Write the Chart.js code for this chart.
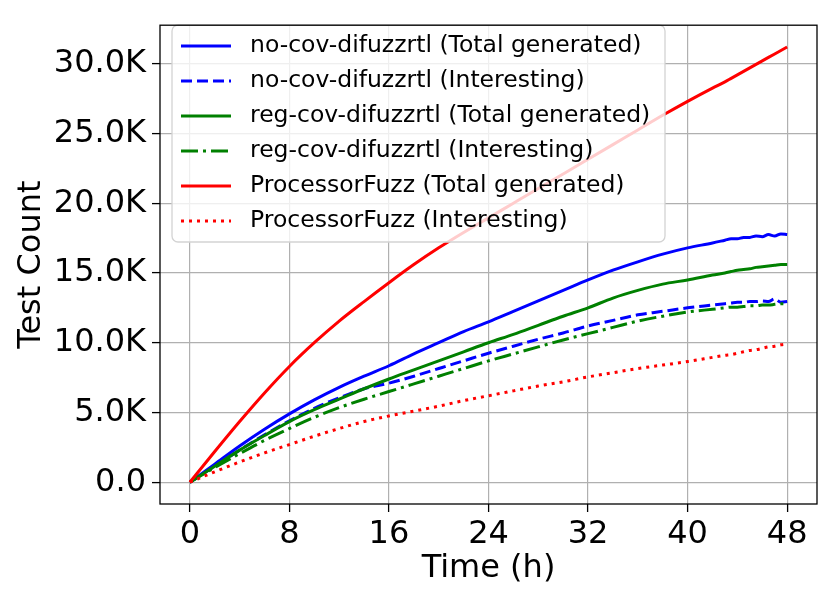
<!DOCTYPE html>
<html lang="en">
<head>
    <meta charset="UTF-8">
    <title>Test Count over Time</title>
    <style>
        body {
            margin: 0;
            background: #ffffff;
        }

        #chart {
            display: block;
        }
    </style>
</head>
<body>
    <canvas id="chart" width="830" height="600"></canvas>

    <script src="https://cdn.jsdelivr.net/npm/chart.js"></script>
    <script>
        // time axis (hours), shared by every series
        const hours = [0, 2, 4, 6, 8, 10, 12, 14, 16, 18, 20, 22, 24, 26, 28, 30, 32, 34, 36, 38, 40, 42,
            43, 43.5, 44, 44.5, 45, 45.5, 46, 46.5, 47, 47.5, 48];

        // test counts
        const noCovTotal = [0, 1300, 2600, 3800, 4900, 5900, 6800, 7600, 8350, 9200, 10000, 10800, 11500, 12250,
            13000, 13750, 14500, 15200, 15800, 16350, 16800, 17150,
            17350, 17450, 17450, 17550, 17550, 17650, 17600, 17750, 17650, 17800, 17750];
        const noCovInteresting = [0, 1150, 2300, 3400, 4400, 5300, 6050, 6700, 7100, 7600, 8150, 8700, 9250, 9750,
            10250, 10700, 11200, 11600, 12000, 12250, 12500, 12700,
            12800, 12850, 12900, 12900, 12950, 12950, 13000, 12950, 13150, 12900, 12950];
        const regCovTotal = [0, 1150, 2300, 3350, 4350, 5200, 5950, 6700, 7400, 8050, 8700, 9350, 10000, 10600,
            11250, 11900, 12500, 13200, 13750, 14200, 14500, 14850,
            15000, 15100, 15200, 15250, 15300, 15400, 15450, 15500, 15550, 15600, 15600];
        const regCovInteresting = [0, 1050, 2050, 3000, 3850, 4650, 5350, 5950, 6500, 7050, 7600, 8150, 8700, 9200,
            9700, 10200, 10650, 11100, 11550, 11900, 12200, 12400,
            12500, 12550, 12550, 12600, 12650, 12650, 12700, 12700, 12750, 12800, 12800];
        const pfTotal = [0, 2200, 4350, 6400, 8300, 10000, 11550, 12950, 14300, 15600, 16800, 17900, 18950, 20000,
            21050, 22100, 23150, 24200, 25250, 26300, 27300, 28250,
            28700, 28950, 29200, 29450, 29700, 29950, 30200, 30450, 30700, 30950, 31200];
        const pfInteresting = [0, 750, 1450, 2100, 2700, 3300, 3850, 4350, 4750, 5100, 5450, 5850, 6200, 6550,
            6900, 7200, 7550, 7850, 8150, 8400, 8650, 8950,
            9100, 9150, 9250, 9350, 9450, 9500, 9600, 9700, 9750, 9850, 9900];

        const seriesNames = [
            'no-cov-difuzzrtl (Total generated)',
            'no-cov-difuzzrtl (Interesting)',
            'reg-cov-difuzzrtl (Total generated)',
            'reg-cov-difuzzrtl (Interesting)',
            'ProcessorFuzz (Total generated)',
            'ProcessorFuzz (Interesting)'
        ];
        const seriesValues = [noCovTotal, noCovInteresting, regCovTotal, regCovInteresting, pfTotal, pfInteresting];
        const seriesColors = ['#0000ff', '#0000ff', '#008000', '#008000', '#ff0000', '#ff0000'];
        const seriesDashes = [[], [11, 5], [], [17, 5, 3, 5], [], [3, 5]];

        const xTicks = [0, 8, 16, 24, 32, 40, 48];
        const yTicks = [0, 5000, 10000, 15000, 20000, 25000, 30000];

        const FONT = "'DejaVu Sans', sans-serif";

        const datasets = seriesNames.map((name, i) => ({
            label: name,
            data: hours.map((h, j) => ({ x: h, y: seriesValues[i][j] })),
            borderColor: seriesColors[i],
            backgroundColor: seriesColors[i],
            borderDash: seriesDashes[i],
            borderWidth: 3,
            pointRadius: 0,
            fill: false,
            cubicInterpolationMode: 'monotone',
            order: seriesNames.length - i
        }));

        // legend box inside the plot, like matplotlib's upper-left legend
        const boxLegend = {
            id: 'boxLegend',
            afterDatasetsDraw(chart) {
                const ctx = chart.ctx;
                const left = 172, top = 25, width = 493, height = 217, r = 6;
                ctx.save();
                ctx.beginPath();
                ctx.roundRect(left, top, width, height, r);
                ctx.fillStyle = 'rgba(255,255,255,0.8)';
                ctx.fill();
                ctx.strokeStyle = '#d3d3d3';
                ctx.lineWidth = 1.3;
                ctx.stroke();

                ctx.font = '23.5px ' + FONT;
                ctx.textBaseline = 'middle';
                ctx.textAlign = 'left';
                seriesNames.forEach((name, i) => {
                    const y = 46 + i * 35;
                    ctx.beginPath();
                    ctx.setLineDash(seriesDashes[i]);
                    ctx.strokeStyle = seriesColors[i];
                    ctx.lineWidth = 3;
                    ctx.moveTo(181, y);
                    ctx.lineTo(231, y);
                    ctx.stroke();
                    ctx.setLineDash([]);
                    ctx.fillStyle = '#000';
                    ctx.fillText(name, 250, y);
                });
                ctx.restore();
            },
            afterDraw(chart) {
                const a = chart.chartArea;
                const ctx = chart.ctx;
                ctx.save();
                ctx.strokeStyle = '#000';
                ctx.lineWidth = 1.3;
                ctx.strokeRect(a.left, a.top, a.right - a.left, a.bottom - a.top);
                ctx.restore();
            }
        };

        const ctx = document.getElementById('chart').getContext('2d');
        const myChart = new Chart(ctx, {
            type: 'line',
            data: { datasets: datasets },
            plugins: [boxLegend],
            options: {
                responsive: false,
                animation: false,
                devicePixelRatio: 1,
                layout: { padding: { top: 14, right: 13, left: 0, bottom: 0 } },
                plugins: {
                    legend: { display: false },
                    tooltip: { enabled: false }
                },
                scales: {
                    x: {
                        type: 'linear',
                        min: -2.4,
                        max: 50.4,
                        afterBuildTicks: (scale) => { scale.ticks = xTicks.map(v => ({ value: v })); },
                        afterFit: (scale) => { scale.height = 96; },
                        border: { display: false },
                        grid: {
                            color: '#b0b0b0',
                            lineWidth: 1.2,
                            tickColor: '#000',
                            tickLength: 8,
                            tickWidth: 1.3
                        },
                        ticks: {
                            color: '#000',
                            font: { family: FONT, size: 32 },
                            padding: 3,
                            maxRotation: 0,
                            callback: (v) => String(v)
                        },
                        title: {
                            display: true,
                            text: 'Time (h)',
                            color: '#000',
                            font: { family: FONT, size: 32 },
                            padding: { top: 0, bottom: 12 }
                        }
                    },
                    y: {
                        type: 'linear',
                        min: -1560,
                        max: 32760,
                        afterBuildTicks: (scale) => { scale.ticks = yTicks.map(v => ({ value: v })); },
                        afterFit: (scale) => { scale.width = 160; },
                        border: { display: false },
                        grid: {
                            color: '#b0b0b0',
                            lineWidth: 1.2,
                            tickColor: '#000',
                            tickLength: 8,
                            tickWidth: 1.3
                        },
                        ticks: {
                            color: '#000',
                            font: { family: FONT, size: 32 },
                            padding: 6,
                            callback: (v) => v === 0 ? '0.0' : (v / 1000).toFixed(1) + 'K'
                        },
                        title: {
                            display: true,
                            text: 'Test Count',
                            color: '#000',
                            font: { family: FONT, size: 32 },
                            padding: { top: 12, bottom: 0 }
                        }
                    }
                }
            }
        });
    </script>
</body>
</html>
